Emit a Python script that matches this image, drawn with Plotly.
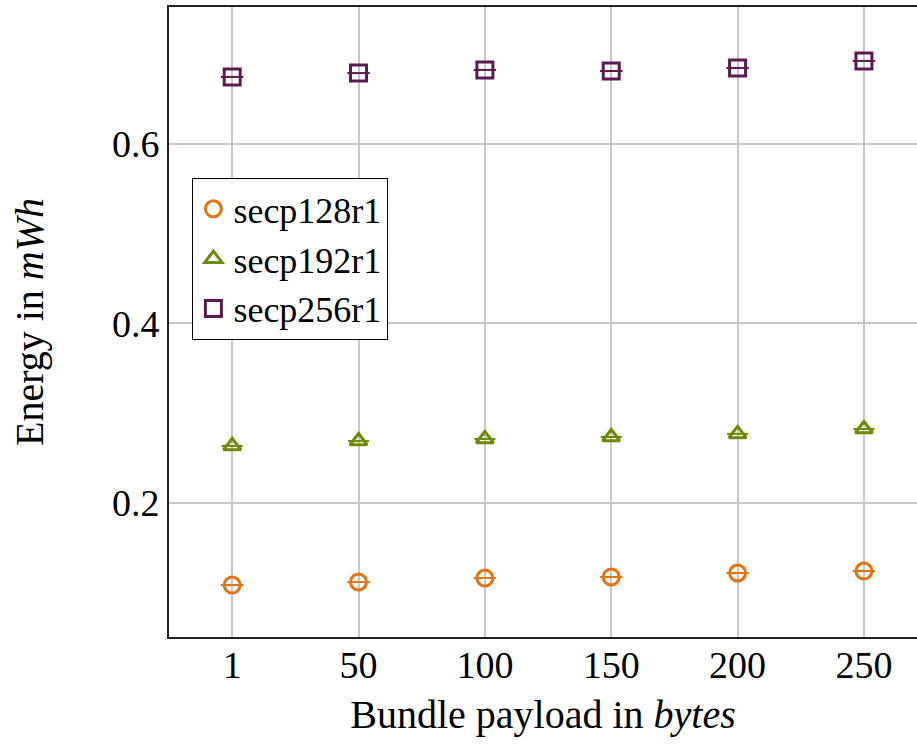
import plotly.graph_objects as go

payload = ["1", "50", "100", "150", "200", "250"]
secp128r1 = [0.1086, 0.1120, 0.1164, 0.1176, 0.1220, 0.1242]
secp192r1 = [0.2635, 0.2690, 0.2713, 0.2735, 0.2770, 0.2824]
secp256r1 = [0.6747, 0.6790, 0.6825, 0.6813, 0.6847, 0.6925]

series = [
    ("secp128r1", secp128r1, "circle-open", "#E8730C", 16),
    ("secp192r1", secp192r1, "triangle-up-open", "#6E8A00", 15),
    ("secp256r1", secp256r1, "square-open", "#5B1B50", 16),
]

FONT = "Liberation Serif"
fig = go.Figure()
for name, vals, sym, col, sz in series:
    fig.add_trace(go.Scatter(
        x=payload, y=vals, mode="markers", name=name,
        marker=dict(symbol=sym, size=sz, color=col, line=dict(color=col, width=3)),
    ))
for name, vals, sym, col, sz in series:
    fig.add_trace(go.Scatter(
        x=payload, y=vals, mode="markers", showlegend=False, hoverinfo="skip",
        marker=dict(symbol="line-ew", size=sz, color=col, line=dict(color=col, width=2)),
    ))

fig.update_layout(
    width=917, height=747,
    margin=dict(l=169, r=0, t=7, b=110),
    plot_bgcolor="white", paper_bgcolor="white",
    font=dict(family=FONT, size=38, color="black"),
    showlegend=True,
    legend=dict(
        x=0.031, y=0.729, xanchor="left", yanchor="top",
        bgcolor="white", bordercolor="black", borderwidth=1.2,
        font=dict(family=FONT, size=36),
        tracegroupgap=0, itemwidth=30, entrywidth=178,
    ),
    xaxis=dict(
        type="category", range=[-0.5, 5.42],
        showgrid=True, gridcolor="#c8c8c8", gridwidth=1.5,
        showline=True, linecolor="#222222", linewidth=2, mirror=True,
        ticks="", tickfont=dict(size=38), ticklabelstandoff=-7,
        title=dict(text="Bundle payload in <i>bytes</i>", standoff=15, font=dict(size=40)),
        zeroline=False,
    ),
    yaxis=dict(
        range=[0.0507, 0.7526],
        tickvals=[0.2, 0.4, 0.6], ticktext=["0.2", "0.4", "0.6"],
        showgrid=True, gridcolor="#c8c8c8", gridwidth=1.5,
        showline=True, linecolor="#222222", linewidth=2, mirror=False,
        ticks="", tickfont=dict(size=38),
        title=dict(text="Energy in <i>mWh</i>", standoff=56, font=dict(size=40)),
        zeroline=False,
    ),
)

fig.write_html(
    "out.html",
    config={"displayModeBar": False},
    post_script="document.body.style.margin='0';document.body.style.padding='0';document.body.style.overflow='hidden';",
)
